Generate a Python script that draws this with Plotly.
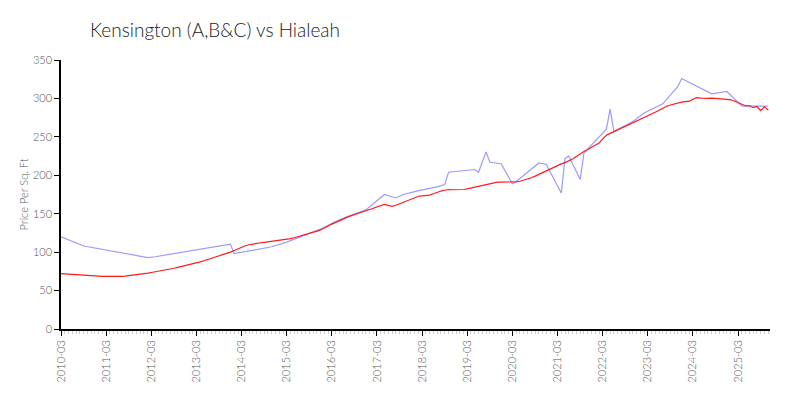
import pandas as pd
import plotly.graph_objects as go

# Hialeah - monthly price per sq ft (red), 2010-03 .. 2025-11
red_months = pd.date_range("2010-03-01", "2025-11-01", freq="MS")
red_values = [
    72.0, 71.6, 71.2, 70.8, 70.5, 70.2, 69.8, 69.5, 69.3, 69.0,
    68.8, 68.5, 68.6, 68.4, 68.2, 68.3, 68.5, 68.9, 69.4, 69.8, 70.3, 71.0,
    71.8, 72.6, 73.5, 74.3, 75.1, 76.0, 77.0, 78.0, 79.0, 80.1, 81.2, 82.4,
    83.6, 84.8, 86.0, 87.4, 88.8, 90.3, 91.8, 93.3, 94.8, 96.4, 98.1, 100.0,
    102.2, 104.5, 106.8, 108.3, 109.6, 110.7, 111.5, 112.2, 112.8, 113.4, 114.0, 114.6,
    115.2, 115.9, 116.7, 117.6, 118.7, 120.0, 121.5, 123.1, 124.6, 126.0, 127.4, 128.9,
    131.0, 134.0, 136.5, 138.5, 140.5, 143.0, 145.5, 147.0, 148.6, 150.3, 152.0, 153.8,
    155.5, 157.2, 159.0, 161.2, 162.0, 160.8, 159.6, 161.0, 163.0, 165.0, 166.3, 168.0,
    170.5, 172.7, 173.2, 173.8, 174.3, 176.0, 178.0, 179.5, 180.5, 181.5, 181.2, 181.0,
    181.3, 181.5, 182.3, 183.4, 184.6, 185.8, 186.5, 187.4, 188.6, 190.0, 191.0, 191.2,
    191.0, 190.8, 191.0, 191.3, 192.2, 193.6, 195.2, 196.8, 198.9, 201.3, 203.8, 206.0,
    208.3, 210.6, 212.8, 214.8, 216.5, 218.7, 221.3, 224.5, 228.0, 231.0, 233.6, 236.0,
    238.5, 242.0, 247.0, 252.0, 254.5, 256.8, 258.5, 261.0, 263.5, 266.0, 268.5, 270.8,
    273.0, 275.3, 277.5, 279.6, 282.0, 284.6, 287.3, 289.8, 291.5, 293.0, 294.3, 295.2,
    295.8, 296.4, 299.0, 301.0, 300.4, 299.8, 300.0, 300.3, 300.1, 299.5, 299.0, 298.7,
    298.2, 296.9, 294.8, 292.4, 290.5, 290.8, 288.0, 289.5, 284.0, 289.0, 285.0,
]

# Kensington (A,B&C) - sparse sales months (blue)
blue_months = [
    "2010-03", "2010-06", "2010-09", "2012-02", "2012-04", "2013-12", "2014-01",
    "2014-11", "2015-03", "2015-08", "2015-12", "2016-05", "2016-12", "2017-05",
    "2017-08", "2017-10", "2018-02", "2018-07", "2018-09", "2018-10", "2019-05",
    "2019-06", "2019-08", "2019-09", "2019-12", "2020-03", "2020-04", "2020-10",
    "2020-12", "2021-04", "2021-05", "2021-06", "2021-09", "2021-10", "2022-04",
    "2022-05", "2022-06", "2022-11", "2023-02", "2023-07", "2023-11", "2023-12",
    "2024-08", "2024-12", "2025-04", "2025-11",
]
blue_values = [
    120, 114, 108, 93, 94, 110.5, 98,
    107, 113, 122.5, 130, 142, 155, 175,
    170.5, 175, 180, 185, 188, 204, 207.5,
    204, 230.5, 217, 215, 189, 192, 216,
    214, 177, 222, 225, 194.5, 229, 260,
    286, 257, 270, 281, 293, 315.5, 326,
    306, 309, 290, 290,
]

fig = go.Figure()
fig.add_trace(go.Scatter(
    x=pd.to_datetime(blue_months),
    y=blue_values,
    mode="lines",
    line=dict(color="#9a9aff", width=1.2),
    name="Kensington (A,B&C)",
))
fig.add_trace(go.Scatter(
    x=red_months,
    y=red_values,
    mode="lines",
    line=dict(color="#ff1a1a", width=1.2),
    name="Hialeah",
))

# page body has an 8px margin, so the figure is 792x392 to fill the window
fig.update_layout(
    title=dict(text="Kensington (A,B&C) vs Hialeah", x=0.1035, xanchor="left",
               y=0.944, yanchor="middle",
               font=dict(family="Lato, sans-serif", size=19, color="#222", weight=300)),
    width=792, height=392,
    margin=dict(l=53, r=30, t=52, b=71),
    plot_bgcolor="white", paper_bgcolor="white",
    showlegend=False,
    font=dict(family="Lato, sans-serif", size=11, color="#666", weight=300),
)

fig.update_xaxes(
    range=["2010-03-01", "2025-11-15"],
    tick0="2010-03-01", dtick="M12", tickformat="%Y-%m",
    tickangle=-90, ticks="outside", ticklen=5, tickcolor="black",
    showline=True, linecolor="black", linewidth=1.5,
    showgrid=False, zeroline=False,
    minor=dict(dtick="M1", ticks="outside", ticklen=3, tickcolor="#ccc"),
    tickfont=dict(size=11, color="#555", weight=300),
)
fig.update_yaxes(
    range=[0, 350], dtick=50,
    ticks="outside", ticklen=5, tickcolor="black",
    showline=True, linecolor="black", linewidth=1.5,
    showgrid=False, zeroline=False,
    title=dict(text="Price Per Sq. Ft", font=dict(size=11, color="#555", weight=300), standoff=2),
    tickfont=dict(size=11, color="#555", weight=300),
)

fig.write_html("out.html")
